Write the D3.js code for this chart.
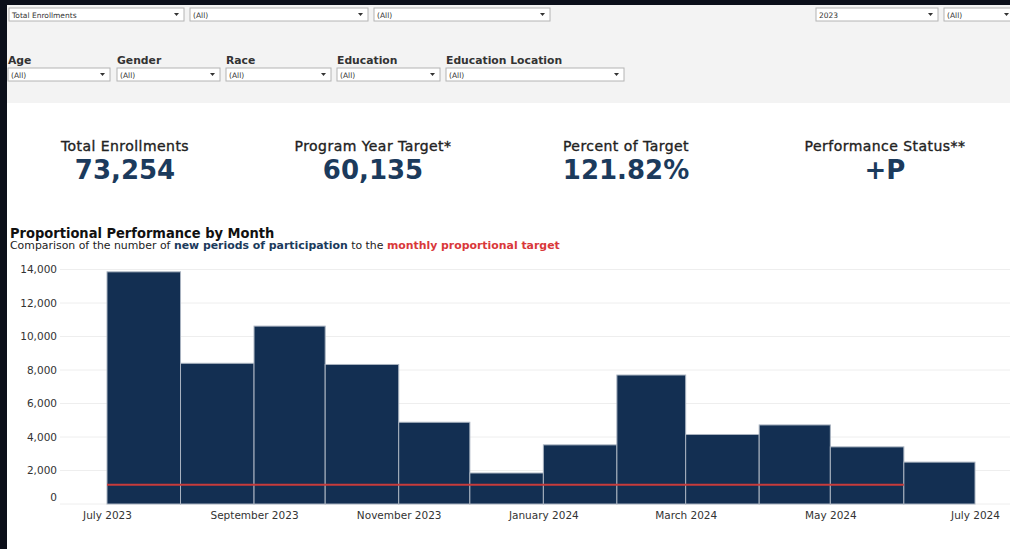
<!DOCTYPE html>
<html>
<head>
<meta charset="utf-8">
<script src="https://cdn.jsdelivr.net/npm/d3@7"></script>
<style>
    body { margin: 0; background: #0b0f1a; }
    svg { display: block; font-family: "DejaVu Sans", Verdana, sans-serif; }
</style>
</head>
<body>
<div class="vis"></div>
<script>
// monthly new periods of participation, Jul 2023 - Jun 2024
const months = ["2023-07", "2023-08", "2023-09", "2023-10", "2023-11", "2023-12",
                "2024-01", "2024-02", "2024-03", "2024-04", "2024-05", "2024-06"];
const enrollments = [13860, 8400, 10620, 8330, 4880, 1850, 3530, 7700, 4150, 4720, 3410, 2500];
const monthlyTarget = [1150, 1150, 1150, 1150, 1150, 1150, 1150, 1150, 1150, 1150, 1150, 1150];
const yTicks = [0, 2000, 4000, 6000, 8000, 10000, 12000, 14000];

const kpiLabels = ["Total Enrollments", "Program Year Target*", "Percent of Target", "Performance Status**"];
const kpiValues = ["73,254", "60,135", "121.82%", "+P"];

const filterLabels = ["Age", "Gender", "Race", "Education", "Education Location"];

(function () {
    const svgWidth = 1010;
    const svgHeight = 549;

    const svg = d3.select('.vis')
        .append('svg')
            .attr('width', svgWidth)
            .attr('height', svgHeight);

    // page background pieces
    svg.append('rect').attr('x', 7).attr('y', 5).attr('width', svgWidth - 7).attr('height', 98).attr('fill', '#f3f3f3');
    svg.append('rect').attr('x', 7).attr('y', 103).attr('width', svgWidth - 7).attr('height', svgHeight - 103).attr('fill', '#ffffff');

    // dropdown helper
    const dropdown = function(x, y, w, label) {
        const g = svg.append('g').attr('transform', `translate(${x}, ${y})`);
        g.append('rect')
            .attr('width', w).attr('height', 13)
            .attr('fill', '#fff').attr('stroke', '#b4b4b4');
        g.append('text')
            .attr('x', 3).attr('y', 9.5)
            .attr('font-size', 7.5).attr('fill', '#333')
            .text(label);
        g.append('path')
            .attr('d', `M${w - 10},5 L${w - 5},5 L${w - 7.5},8 Z`)
            .attr('fill', '#333');
    };

    dropdown(9, 8, 175, 'Total Enrollments');
    dropdown(190, 8, 178, '(All)');
    dropdown(374, 8, 176, '(All)');
    dropdown(816, 8, 122, '2023');
    dropdown(944, 8, 70, '(All)');

    const filterX = [8, 117, 226, 337, 446];
    const filterW = [102, 103, 105, 103, 178];
    filterLabels.forEach(function (lab, i) {
        svg.append('text')
            .attr('x', filterX[i]).attr('y', 64)
            .attr('font-size', 10.8).attr('font-weight', 'bold').attr('fill', '#333')
            .text(lab);
        dropdown(filterX[i], 68, filterW[i], '(All)');
    });

    // KPI row
    const kpiX = [125, 373, 626, 885];
    kpiLabels.forEach(function (lab, i) {
        svg.append('text')
            .attr('x', kpiX[i]).attr('y', 151)
            .attr('text-anchor', 'middle')
            .attr('font-size', 14).attr('fill', '#222')
            .attr('stroke', '#222').attr('stroke-width', 0.35)
            .attr('letter-spacing', 0.45)
            .text(lab);
        svg.append('text')
            .attr('x', kpiX[i]).attr('y', 179)
            .attr('text-anchor', 'middle')
            .attr('font-size', 26).attr('font-weight', 'bold').attr('fill', '#1b3a5c')
            .text(kpiValues[i]);
    });

    // chart title
    svg.append('text')
        .attr('x', 10).attr('y', 238)
        .attr('font-family', '"DejaVu Sans Condensed", "DejaVu Sans", sans-serif')
        .attr('font-size', 14.5).attr('font-weight', 'bold').attr('fill', '#111')
        .text('Proportional Performance by Month');
    const sub = svg.append('text')
        .attr('x', 10).attr('y', 249)
        .attr('font-size', 10.9).attr('fill', '#222');
    sub.append('tspan').text('Comparison of the number of ');
    sub.append('tspan').attr('font-weight', 'bold').attr('fill', '#1b3a5c').text('new periods of participation');
    sub.append('tspan').text(' to the ');
    sub.append('tspan').attr('font-weight', 'bold').attr('fill', '#d9383a').text('monthly proportional target');

    // data table
    const parse = d3.utcParse('%Y-%m');
    const data = months.map(function (m, i) {
        const start = parse(m);
        return {
            start: start,
            end: d3.utcMonth.offset(start, 1),
            value: enrollments[i],
            target: monthlyTarget[i]
        };
    });

    const xScale = d3.scaleUtc()
        .domain([data[0].start, data[data.length - 1].end])
        .range([107, 975]);

    const yScale = d3.scaleLinear()
        .domain([0, 14000])
        .range([504, 269.5]);

    // gridlines
    svg.append('g')
        .selectAll('line')
        .data(yTicks)
        .enter().append('line')
            .attr('x1', 60).attr('x2', svgWidth)
            .attr('y1', function(d) { return yScale(d); })
            .attr('y2', function(d) { return yScale(d); })
            .attr('stroke', '#eeeeee');

    const yAxis = d3.axisLeft(yScale)
        .tickValues(yTicks)
        .tickFormat(d3.format(','))
        .tickSize(0)
        .tickPadding(0);

    const callyAxis = svg.append('g')
        .attr('transform', 'translate(57, 0)')
        .call(yAxis);
    callyAxis.select('.domain').remove();
    callyAxis.selectAll('text')
        .attr('font-size', 10.5).attr('fill', '#333')
        .attr('font-family', '"DejaVu Sans", Verdana, sans-serif')
        .attr('dy', function(d) { return d === 0 ? '-0.3em' : '0.32em'; });

    // bars
    svg.append('g')
        .selectAll('rect')
        .data(data)
        .enter().append('rect')
            .attr('x', function(d) { return xScale(d.start); })
            .attr('y', function(d) { return yScale(d.value); })
            .attr('width', function(d) { return xScale(d.end) - xScale(d.start); })
            .attr('height', function(d) { return yScale(0) - yScale(d.value); })
            .attr('fill', '#132f52')
            .attr('stroke', '#a9b3c0')
            .attr('stroke-width', 1);

    // monthly target line
    const line = d3.line()
        .x(function(d) { return xScale(d.start); })
        .y(function(d) { return yScale(d.target); });

    svg.append('path')
        .datum(data)
        .attr('d', line)
        .attr('fill', 'none')
        .attr('stroke', '#c73b3b')
        .attr('stroke-width', 2);

    // x axis
    const xAxis = d3.axisBottom(xScale)
        .ticks(d3.utcMonth.every(2))
        .tickFormat(d3.utcFormat('%B %Y'))
        .tickSize(0)
        .tickPadding(0);

    const callxAxis = svg.append('g')
        .attr('transform', 'translate(0, 510)')
        .call(xAxis);
    callxAxis.select('.domain').remove();
    callxAxis.selectAll('text')
        .attr('font-size', 10.5).attr('fill', '#333')
        .attr('font-family', '"DejaVu Sans", Verdana, sans-serif')
        .attr('dy', '0.9em');
} (d3));
</script>
</body>
</html>
